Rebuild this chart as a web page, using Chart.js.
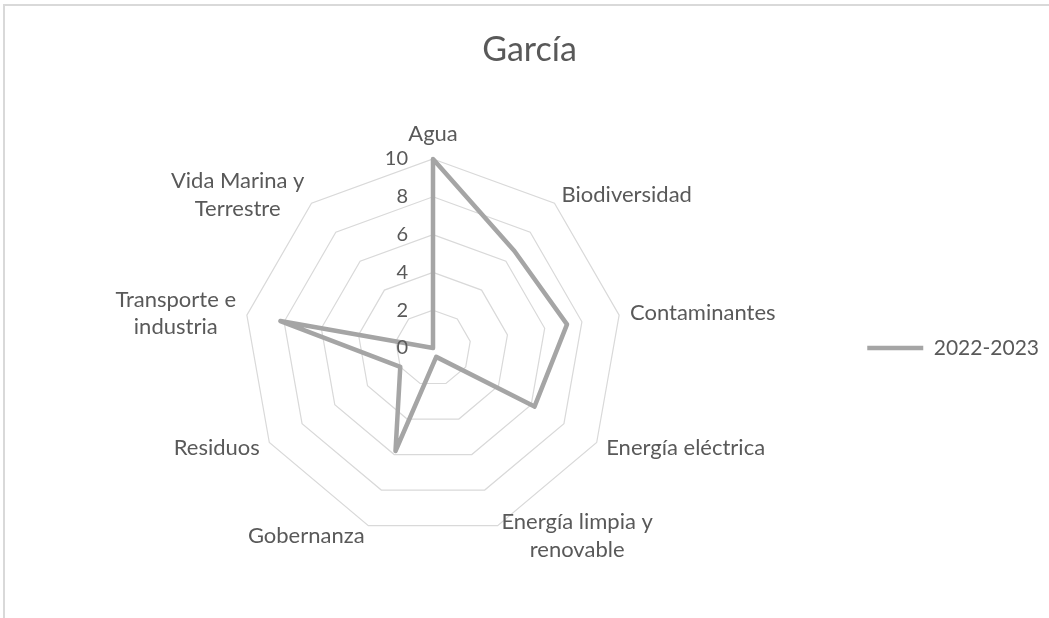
<!DOCTYPE html>
<html>
<head>
<meta charset="utf-8">
<script src="https://cdn.jsdelivr.net/npm/chart.js@4.4.1/dist/chart.umd.min.js"></script>
<style>
    html, body { margin: 0; padding: 0; background: #ffffff; }
    #wrap { position: relative; width: 1049px; height: 618px; overflow: hidden; }
    #frame {
        position: absolute; left: 3px; top: 4px; width: 1100px; height: 700px;
        border-left: 2px solid #d9d9d9; border-top: 2px solid #d9d9d9;
    }
    #chart { position: absolute; left: 0; top: 0; }
</style>
</head>
<body>
<div id="wrap">
    <div id="frame"></div>
    <canvas id="chart" width="1049" height="618"></canvas>
</div>
<script>
// Chart data
const chartTitle = 'García';
const categories = [
    'Agua',
    'Biodiversidad',
    'Contaminantes',
    'Energía eléctrica',
    ['Energía limpia y', 'renovable'],
    'Gobernanza',
    'Residuos',
    ['Transporte e', 'industria'],
    ['Vida Marina y', 'Terrestre']
];
const seriesName = '2022-2023';
const seriesValues = [10, 6.7, 7.2, 6.2, 0.5, 5.8, 2, 8.2, 0];
const tickValues = [0, 2, 4, 6, 8, 10];

const textColor = '#595959';
const lineColor = '#a5a5a5';
const fontFamily = 'Lato, "Open Sans", sans-serif';

// Value ticks to the left of the vertical axis (Excel style)
const tickLabelPlugin = {
    id: 'tickLabels',
    afterDatasetsDraw(chart) {
        const scale = chart.scales.r;
        const ctx = chart.ctx;
        ctx.save();
        ctx.font = '20px ' + fontFamily;
        ctx.fillStyle = textColor;
        ctx.textAlign = 'right';
        ctx.textBaseline = 'middle';
        tickValues.forEach(function(v) {
            const p = scale.getPointPositionForValue(0, v);
            ctx.fillText(String(v), p.x - 25, p.y);
        });
        ctx.restore();
    }
};

// Category labels placed like Excel: side labels anchored at their middle,
// multi-line labels centred line by line
const categoryLabelPlugin = {
    id: 'categoryLabels',
    afterDraw(chart) {
        const scale = chart.scales.r;
        const ctx = chart.ctx;
        const lineHeight = 27.5;
        const gap = 11;
        ctx.save();
        ctx.font = '22px ' + fontFamily;
        ctx.fillStyle = textColor;
        ctx.textAlign = 'center';
        ctx.textBaseline = 'middle';
        categories.forEach(function(label, i) {
            const lines = Array.isArray(label) ? label : [label];
            const w = Math.max.apply(null, lines.map(function(t) { return ctx.measureText(t).width; }));
            const h = lines.length * lineHeight;
            const p = scale.getPointPosition(i, scale.drawingArea + gap);
            const deg = Math.round(scale.getIndexAngle(i) * 180 / Math.PI) % 360;
            let cx, top;
            if (deg === 0) {
                cx = p.x; top = p.y - h;
            } else if (deg === 180) {
                cx = p.x; top = p.y;
            } else if (deg < 180) {
                cx = p.x + w / 2; top = p.y - h / 2;
            } else {
                cx = p.x - w / 2; top = p.y - h / 2;
            }
            lines.forEach(function(t, j) {
                ctx.fillText(t, cx, top + lineHeight * (j + 0.5));
            });
        });
        ctx.restore();
    }
};

const ctx = document.getElementById('chart').getContext('2d');

const radarChart = new Chart(ctx, {
    type: 'radar',
    data: {
        labels: categories,
        datasets: [{
            label: seriesName,
            data: seriesValues,
            borderColor: lineColor,
            backgroundColor: lineColor,
            borderWidth: 4.5,
            borderCapStyle: 'round',
            borderJoinStyle: 'round',
            fill: false,
            pointRadius: 0,
            pointHoverRadius: 0
        }]
    },
    options: {
        responsive: false,
        animation: false,
        layout: {
            padding: { left: 10, right: 0, top: 0, bottom: 81 }
        },
        plugins: {
            title: {
                display: true,
                text: chartTitle,
                color: textColor,
                font: { family: fontFamily, size: 34, weight: 'normal' },
                padding: { top: 30, bottom: 88.2 }
            },
            legend: {
                position: 'right',
                fullSize: false,
                labels: {
                    usePointStyle: true,
                    pointStyle: 'line',
                    pointStyleWidth: 56,
                    color: textColor,
                    font: { family: fontFamily, size: 21 },
                    padding: 10
                }
            },
            tooltip: { enabled: false }
        },
        scales: {
            r: {
                min: 0,
                max: 10,
                ticks: {
                    stepSize: 2,
                    display: false
                },
                grid: {
                    color: '#d9d9d9',
                    lineWidth: 1.2
                },
                angleLines: { display: false },
                pointLabels: { display: false }
            }
        }
    },
    plugins: [tickLabelPlugin, categoryLabelPlugin]
});
</script>
</body>
</html>
